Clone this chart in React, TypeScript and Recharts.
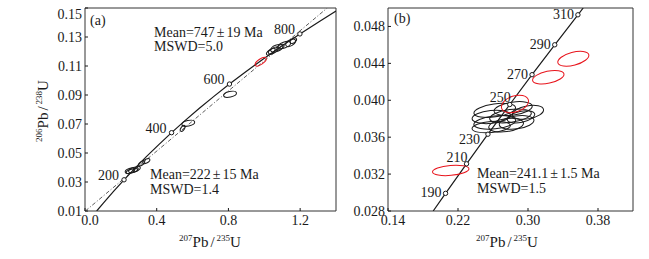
import React from 'react';
import { ScatterChart, Scatter, XAxis, YAxis, ReferenceArea } from 'recharts';

const FONT = '"Liberation Serif", "Times New Roman", serif';
const INK = '#1a1a1a';

// ---- panel (a) ----
// concordia points (age in Ma, 207Pb/235U, 206Pb/238U), clipped to the frame
const concAgesA = [64, 100, 150, 200, 250, 300, 350, 400, 450, 500, 550, 600, 650, 700, 750, 800, 850, 889];
const concXA = [0.0652, 0.1035, 0.1592, 0.2177, 0.2792, 0.3437, 0.4116, 0.4828, 0.5577, 0.6363, 0.7189, 0.8057, 0.8968, 0.9925, 1.0931, 1.1987, 1.3097, 1.4];
const concYA = [0.0100, 0.01563, 0.02354, 0.03151, 0.03954, 0.04764, 0.05580, 0.06402, 0.07230, 0.08065, 0.08906, 0.09754, 0.10609, 0.11470, 0.12338, 0.13213, 0.14094, 0.14785];

const labelAgesA = [200, 400, 600, 800];

// discordia (222 Ma lower / 747 Ma upper intercept), drawn across the frame
const discordiaXA = [0.002, 1.351];
const discordiaYA = [0.01, 0.15];

// ellipses: centre, half widths (data units) and tilt
const ellXA = [0.251, 0.27, 0.262, 0.288, 0.316, 0.342, 0.545, 0.576, 0.809, 1.036, 1.05, 1.069, 1.088, 1.112, 1.147, 1.162];
const ellYA = [0.0378, 0.0383, 0.0376, 0.0389, 0.0429, 0.0444, 0.067, 0.0705, 0.0905, 0.1199, 0.1206, 0.1222, 0.123, 0.1245, 0.126, 0.1275];
const ellEXA = [0.028, 0.028, 0.033, 0.022, 0.02, 0.022, 0.0195, 0.0365, 0.0365, 0.028, 0.03, 0.036, 0.025, 0.036, 0.03, 0.02];
const ellEYA = [0.0016, 0.0016, 0.0013, 0.0014, 0.0012, 0.0013, 0.0012, 0.0019, 0.0019, 0.0014, 0.0017, 0.0022, 0.0014, 0.002, 0.002, 0.0015];
const ellAngA = [20, 20, 15, 30, 35, 30, 55, 12, 12, 35, 30, 20, 30, 20, 30, 35];

const redXA = [0.98];
const redYA = [0.113];
const redEXA = [0.036];
const redEYA = [0.0018];
const redAngA = [35];

const xTicksA = [0, 0.4, 0.8, 1.2];
const yTicksA = [0.01, 0.03, 0.05, 0.07, 0.09, 0.11, 0.13, 0.15];

// ---- panel (b) ----
const concAgesB = [178, 190, 210, 230, 250, 270, 290, 310, 314.5];
const concXB = [0.19163, 0.20577, 0.22976, 0.25422, 0.27917, 0.30462, 0.33057, 0.35704, 0.3631];
const concYB = [0.028, 0.029912, 0.033113, 0.036323, 0.039543, 0.042773, 0.046013, 0.049264, 0.05];

const labelAgesB = [190, 210, 230, 250, 270, 290, 310];

const ellXB = [0.262, 0.283, 0.3, 0.258, 0.28, 0.262, 0.287, 0.258, 0.275, 0.292];
const ellYB = [0.0389, 0.0391, 0.0387, 0.0382, 0.0383, 0.0376, 0.0376, 0.0371, 0.0373, 0.0382];
const ellEXB = [0.024, 0.022, 0.018, 0.022, 0.024, 0.024, 0.02, 0.022, 0.02, 0.016];
const ellEYB = [0.0007, 0.0007, 0.0007, 0.0007, 0.0007, 0.0007, 0.0007, 0.0006, 0.0007, 0.0006];
const ellAngB = [8, 8, 10, 6, 8, 6, 8, 5, 8, 12];

const redXB = [0.2117, 0.3518, 0.3232, 0.2851];
const redYB = [0.0324, 0.0445, 0.0425, 0.0396];
const redEXB = [0.0209, 0.0183, 0.0183, 0.016];
const redEYB = [0.00054, 0.0007, 0.00065, 0.00087];
const redAngB = [5, 15, 12, 18];

const xTicksB = [0.14, 0.22, 0.3, 0.38];
const yTicksB = [0.028, 0.032, 0.036, 0.04, 0.044, 0.048];

// label placement around the age markers
const placeB: Record<number, string> = {
  190: 'left', 210: 'up', 230: 'downLeft', 250: 'up', 270: 'left', 290: 'left', 310: 'left',
};
const OFFSETS: Record<string, [number, number]> = {
  left: [-4, -1],
  upLeft: [-5, -5],
  up: [1, -7],
  downLeft: [-8, 5],
};

const pts = (xs: number[], ys: number[]) => xs.map((x, i) => ({ x, y: ys[i] }));
const ellipses = (xs: number[], ys: number[], ex: number[], ey: number[], ang: number[]) =>
  xs.map((x, i) => ({ x, y: ys[i], ex: ex[i], ey: ey[i], angle: ang[i] }));

const concA = concAgesA.map((age, i) => ({ age, x: concXA[i], y: concYA[i] }));
const concB = concAgesB.map((age, i) => ({ age, x: concXB[i], y: concYB[i] }));
const markA = concA.filter((d) => labelAgesA.includes(d.age));
const markB = concB.filter((d) => labelAgesB.includes(d.age));

const noDot = () => <g />;

function ellipseShape(kx: number, ky: number, color: string) {
  return (props: any) => {
    const { cx, cy, payload } = props;
    return (
      <ellipse
        cx={cx}
        cy={cy}
        rx={payload.ex * kx}
        ry={payload.ey * ky}
        transform={`rotate(${-payload.angle} ${cx} ${cy})`}
        fill="none"
        stroke={color}
        strokeWidth={1}
      />
    );
  };
}

function markerShape(place: (age: number) => string) {
  return (props: any) => {
    const { cx, cy, payload } = props;
    const [dx, dy] = OFFSETS[place(payload.age)];
    return (
      <g>
        <circle cx={cx} cy={cy} r={2.2} fill="#fff" stroke={INK} strokeWidth={1} />
        <text
          x={cx + dx}
          y={cy + dy + 5}
          textAnchor="end"
          fontFamily={FONT}
          fontSize={14}
          fill={INK}
        >
          {payload.age}
        </text>
      </g>
    );
  };
}

// tick labels; the ones sitting on a frame corner are nudged inward like in the original
function xTick(digits: number, first: number) {
  return (props: any) => {
    const { x, y, payload } = props;
    const shift = payload.value === first ? 5 : 0;
    return (
      <text x={x + shift} y={y} dy="0.71em" textAnchor="middle" fontFamily={FONT} fontSize={14} fill={INK}>
        {Number(payload.value).toFixed(digits)}
      </text>
    );
  };
}

function yTick(digits: number, top: number) {
  return (props: any) => {
    const { x, y, payload } = props;
    const shift = payload.value === top ? 6 : 0;
    return (
      <text x={x} y={y + shift} dy="0.355em" textAnchor="end" fontFamily={FONT} fontSize={14} fill={INK}>
        {Number(payload.value).toFixed(digits)}
      </text>
    );
  };
}

function Note({ left, top, children }: { left: number; top: number; children: React.ReactNode }) {
  return (
    <div
      style={{
        position: 'absolute',
        left,
        top,
        fontFamily: FONT,
        fontSize: 14,
        lineHeight: '16px',
        color: INK,
        whiteSpace: 'nowrap',
      }}
    >
      {children}
    </div>
  );
}

const PM = <span style={{ margin: '0 2px' }}>±</span>;

function RatioLabel({ a, b }: { a: string; b: string }) {
  const sup = { fontSize: 9, verticalAlign: 'super', lineHeight: 0 } as const;
  return (
    <span>
      <span style={sup}>{a}</span>Pb<span style={{ margin: '0 2px' }}>/</span>
      <span style={sup}>{b}</span>U
    </span>
  );
}

const H = 259;
const A = { w: 345, top: 8, right: 9, bottom: 18, yAxis: 85, xAxis: 30 };
const B = { left: 340, w: 300, top: 8, right: 7, bottom: 18, yAxis: 48, xAxis: 30 };
const plotHA = H - A.top - A.bottom - A.xAxis;
const plotWA = A.w - A.yAxis - A.right;
const plotHB = H - B.top - B.bottom - B.xAxis;
const plotWB = B.w - B.yAxis - B.right;

const domXA: [number, number] = [0, 1.4];
const domYA: [number, number] = [0.01, 0.15];
const domXB: [number, number] = [0.14, 0.42];
const domYB: [number, number] = [0.028, 0.05];

const kxA = plotWA / (domXA[1] - domXA[0]);
const kyA = plotHA / (domYA[1] - domYA[0]);
const kxB = plotWB / (domXB[1] - domXB[0]);
const kyB = plotHB / (domYB[1] - domYB[0]);

const axisLabelStyle: React.CSSProperties = {
  position: 'absolute',
  width: 120,
  textAlign: 'center',
  fontFamily: FONT,
  fontSize: 15,
  lineHeight: '16px',
  color: INK,
};

export default function App() {
  return (
    <div style={{ position: 'absolute', left: 0, top: 0, width: 649, height: H, background: '#fff' }}>
      <div style={{ position: 'absolute', left: 0, top: 0 }}>
        <ScatterChart width={A.w} height={H} margin={{ top: A.top, right: A.right, bottom: A.bottom, left: 0 }}>
          <XAxis
            type="number"
            dataKey="x"
            domain={domXA}
            ticks={xTicksA}
            interval={0}
            allowDataOverflow
            height={A.xAxis}
            tick={xTick(1, xTicksA[0])}
            tickSize={-3}
            tickMargin={7}
            axisLine={false}
            tickLine={{ stroke: INK }}
          />
          <YAxis
            type="number"
            dataKey="y"
            domain={domYA}
            ticks={yTicksA}
            interval={0}
            allowDataOverflow
            width={A.yAxis}
            tick={yTick(2, domYA[1])}
            tickSize={-3}
            tickMargin={6}
            axisLine={false}
            tickLine={{ stroke: INK }}
          />
          <ReferenceArea x1={domXA[0]} x2={domXA[1]} y1={domYA[0]} y2={domYA[1]} fill="none" stroke="#333" strokeWidth={1} />
          <Scatter
            data={pts(discordiaXA, discordiaYA)}
            line={{ stroke: '#333', strokeWidth: 0.8, strokeDasharray: '4 2 1 2' }}
            shape={noDot}
            isAnimationActive={false}
          />
          <Scatter data={concA} line={{ stroke: INK, strokeWidth: 1.2 }} shape={noDot} isAnimationActive={false} />
          <Scatter
            data={ellipses(ellXA, ellYA, ellEXA, ellEYA, ellAngA)}
            shape={ellipseShape(kxA, kyA, INK)}
            isAnimationActive={false}
          />
          <Scatter
            data={ellipses(redXA, redYA, redEXA, redEYA, redAngA)}
            shape={ellipseShape(kxA, kyA, '#e8141c')}
            isAnimationActive={false}
          />
          <Scatter data={markA} shape={markerShape(() => 'upLeft')} isAnimationActive={false} />
        </ScatterChart>
      </div>

      <div style={{ position: 'absolute', left: B.left, top: 0 }}>
        <ScatterChart width={B.w} height={H} margin={{ top: B.top, right: B.right, bottom: B.bottom, left: 0 }}>
          <XAxis
            type="number"
            dataKey="x"
            domain={domXB}
            ticks={xTicksB}
            interval={0}
            allowDataOverflow
            height={B.xAxis}
            tick={xTick(2, xTicksB[0])}
            tickSize={-3}
            tickMargin={7}
            axisLine={false}
            tickLine={{ stroke: INK }}
          />
          <YAxis
            type="number"
            dataKey="y"
            domain={domYB}
            ticks={yTicksB}
            interval={0}
            allowDataOverflow
            width={B.yAxis}
            tick={yTick(3, domYB[1])}
            tickSize={-3}
            tickMargin={6}
            axisLine={false}
            tickLine={{ stroke: INK }}
          />
          <ReferenceArea x1={domXB[0]} x2={domXB[1]} y1={domYB[0]} y2={domYB[1]} fill="none" stroke="#333" strokeWidth={1} />
          <Scatter data={concB} line={{ stroke: INK, strokeWidth: 1.2 }} shape={noDot} isAnimationActive={false} />
          <Scatter
            data={ellipses(ellXB, ellYB, ellEXB, ellEYB, ellAngB)}
            shape={ellipseShape(kxB, kyB, INK)}
            isAnimationActive={false}
          />
          <Scatter
            data={ellipses(redXB, redYB, redEXB, redEYB, redAngB)}
            shape={ellipseShape(kxB, kyB, '#e8141c')}
            isAnimationActive={false}
          />
          <Scatter data={markB} shape={markerShape((age) => placeB[age])} isAnimationActive={false} />
        </ScatterChart>
      </div>

      <Note left={90} top={13}>(a)</Note>
      <Note left={154} top={25}>Mean=747{PM}19 Ma</Note>
      <Note left={154} top={39}>MSWD=5.0</Note>
      <Note left={150} top={167}>Mean=222{PM}15 Ma</Note>
      <Note left={150} top={182}>MSWD=1.4</Note>

      <Note left={394} top={11}>(b)</Note>
      <Note left={477} top={166}>Mean=241.1{PM}1.5 Ma</Note>
      <Note left={477} top={181}>MSWD=1.5</Note>

      <div style={{ ...axisLabelStyle, left: 150, top: 234 }}>
        <RatioLabel a="207" b="235" />
      </div>
      <div style={{ ...axisLabelStyle, left: 447, top: 234 }}>
        <RatioLabel a="207" b="235" />
      </div>
      <div style={{ ...axisLabelStyle, left: 43 - 60, top: 111 - 8, transform: 'rotate(-90deg)' }}>
        <RatioLabel a="206" b="238" />
      </div>
    </div>
  );
}
